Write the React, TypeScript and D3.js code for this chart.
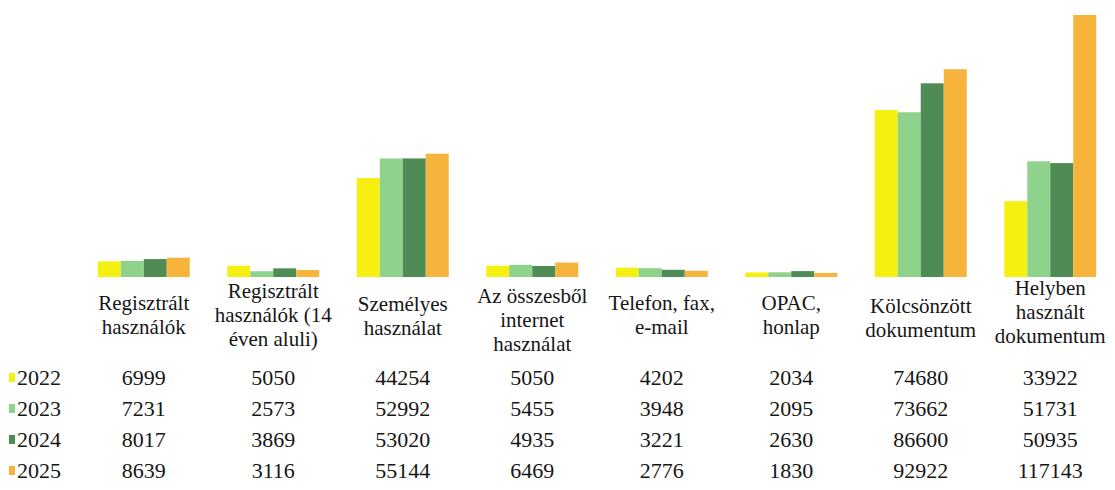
import React from "react";
import * as d3 from "d3";

const categories: string[][] = [
  ["Regisztrált", "használók"],
  ["Regisztrált", "használók (14", "éven aluli)"],
  ["Személyes", "használat"],
  ["Az összesből", "internet", "használat"],
  ["Telefon, fax,", "e-mail"],
  ["OPAC,", "honlap"],
  ["Kölcsönzött", "dokumentum"],
  ["Helyben", "használt", "dokumentum"],
];

const years = ["2022", "2023", "2024", "2025"];
const v2022 = [6999, 5050, 44254, 5050, 4202, 2034, 74680, 33922];
const v2023 = [7231, 2573, 52992, 5455, 3948, 2095, 73662, 51731];
const v2024 = [8017, 3869, 53020, 4935, 3221, 2630, 86600, 50935];
const v2025 = [8639, 3116, 55144, 6469, 2776, 1830, 92922, 117143];
const series = [v2022, v2023, v2024, v2025];
const colors = ["#f6f012", "#8fd28c", "#4f8b55", "#f6b43c"];

export default function App() {
  const W = 1115, H = 490;
  const baseY = 277, topY = 15;
  const x = d3.scaleBand<number>().domain(d3.range(categories.length)).range([79, 1115]).paddingInner(0.29).paddingOuter(0.145);
  const inner = d3.scaleBand<number>().domain(d3.range(years.length)).range([0, x.bandwidth()]);
  const y = d3.scaleLinear().domain([0, 117143]).range([baseY, topY]);
  const rowY = [385, 416, 447, 478];
  const labelTop = [310, 298, 311, 303, 310, 310, 313, 295];
  const ts = { fontFamily: "Liberation Serif" };
  return (
    <svg width={W} height={H} style={{ position: "absolute", left: 0, top: 0, background: "#fff" }}>
      <rect width={W} height={H} fill="#fff" />
      {series.map((vals, si) =>
        vals.map((v, ci) => (
          <rect key={`${si}-${ci}`} x={(x(ci) as number) + (inner(si) as number)} y={y(v)} width={inner.bandwidth()} height={baseY - y(v)} fill={colors[si]} />
        ))
      )}
      {categories.map((lines, ci) => {
        const cx = (x(ci) as number) + x.bandwidth() / 2;
        const lh = 24;
        return (
          <text key={ci} textAnchor="middle" fontSize={21} fill="#161616" style={ts}>
            {lines.map((l, li) => (
              <tspan key={li} x={cx} y={labelTop[ci] + li * lh}>{l}</tspan>
            ))}
          </text>
        );
      })}
      {years.map((yr, si) => (
        <g key={yr}>
          <rect x={9} y={rowY[si] - 12} width={6} height={9} fill={colors[si]} />
          <text x={17} y={rowY[si]} fontSize={22} fill="#161616" style={ts}>{yr}</text>
          {series[si].map((v, ci) => (
            <text key={ci} x={(x(ci) as number) + x.bandwidth() / 2} y={rowY[si]} textAnchor="middle" fontSize={22} fill="#161616" style={ts}>{v}</text>
          ))}
        </g>
      ))}
    </svg>
  );
}
